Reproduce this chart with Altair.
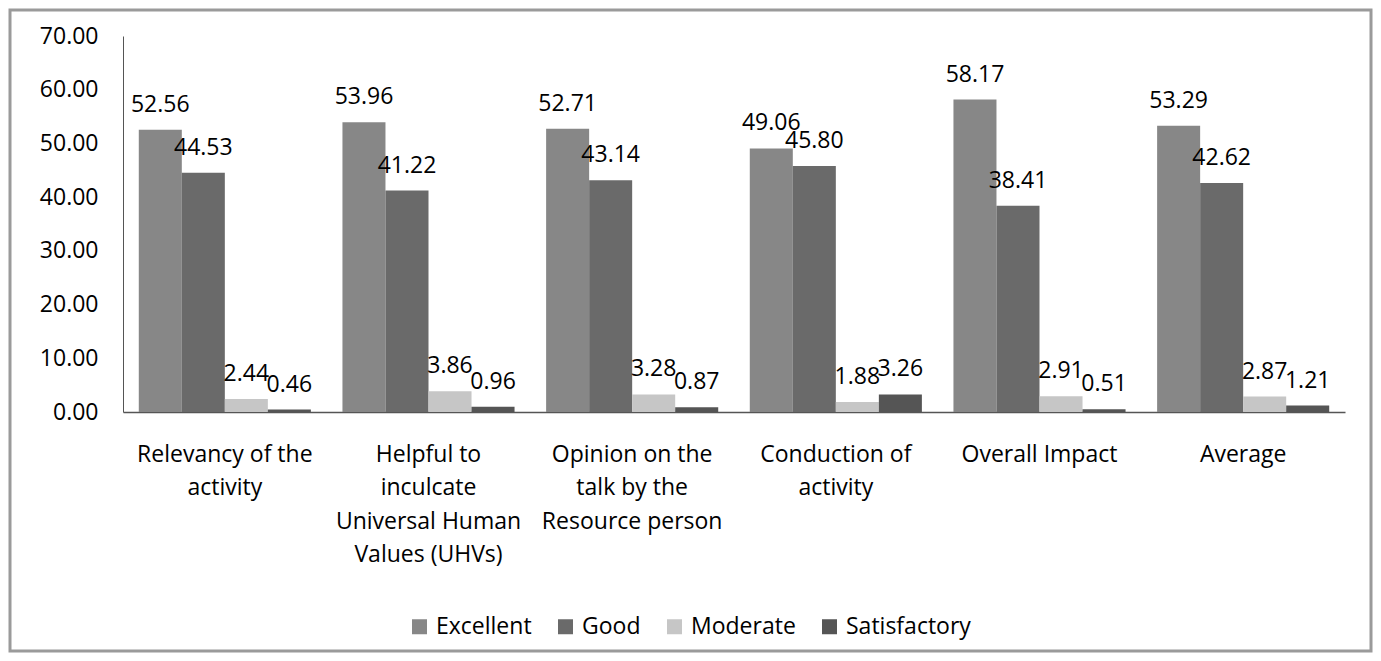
import altair as alt
import pandas as pd

categories = [
    "Relevancy of the|activity",
    "Helpful to|inculcate|Universal Human|Values (UHVs)",
    "Opinion on the|talk by the|Resource person",
    "Conduction of|activity",
    "Overall Impact",
    "Average",
]
series = ["Excellent", "Good", "Moderate", "Satisfactory"]
excellent = [52.56, 53.96, 52.71, 49.06, 58.17, 53.29]
good = [44.53, 41.22, 43.14, 45.80, 38.41, 42.62]
moderate = [2.44, 3.86, 3.28, 1.88, 2.91, 2.87]
satisfactory = [0.46, 0.96, 0.87, 3.26, 0.51, 1.21]
colors = ["#878787", "#6a6a6a", "#c6c6c6", "#555555"]

rows = []
for s, vals in zip(series, [excellent, good, moderate, satisfactory]):
    for c, v in zip(categories, vals):
        rows.append({"category": c, "series": s, "value": v})
df = pd.DataFrame(rows)

FONT = "Open Sans"
W, H = 1222, 376

base = alt.Chart(df).encode(
    x=alt.X(
        "category:N",
        sort=categories,
        title=None,
        scale=alt.Scale(paddingInner=0.155, paddingOuter=0.0775),
        axis=alt.Axis(
            labelExpr="split(datum.label, '|')",
            labelAngle=0,
            labelLimit=0,
            ticks=False,
            labelPadding=31,
            labelFontSize=23,
            labelFont=FONT,
            labelColor="#000000",
            labelLineHeight=33.5,
            labelBaseline="top",
            domainColor="#555555",
            domainWidth=1.5,
        ),
    ),
    xOffset=alt.XOffset("series:N", sort=series, scale=alt.Scale(paddingInner=0, paddingOuter=0)),
    y=alt.Y(
        "value:Q",
        title=None,
        scale=alt.Scale(domain=[0, 70], nice=False),
        axis=alt.Axis(
            values=[0, 10, 20, 30, 40, 50, 60, 70],
            format=".2f",
            ticks=False,
            grid=False,
            labelPadding=25,
            labelFontSize=23,
            labelFont=FONT,
            labelColor="#000000",
            domainColor="#555555",
        ),
    ),
)

bars = base.mark_bar().encode(
    color=alt.Color(
        "series:N",
        sort=series,
        scale=alt.Scale(domain=series, range=colors),
        legend=alt.Legend(
            title=None,
            orient="none",
            direction="horizontal",
            legendX=285,
            legendY=579,
            symbolType="square",
            symbolSize=225,
            symbolStrokeWidth=0,
            labelFontSize=23,
            labelFont=FONT,
            labelColor="#000000",
            labelOffset=5,
            columnPadding=22,
            padding=0,
            labelLimit=0,
        ),
    )
)

text = base.mark_text(dy=-18, baseline="alphabetic", font=FONT, fontSize=23, color="#000000").encode(
    text=alt.Text("value:Q", format=".2f")
)

border = alt.Chart(pd.DataFrame({"a": [0]})).mark_rect(
    fill=None, stroke="#9a9a9a", strokeWidth=3, clip=False
).encode(
    x=alt.value(-113), x2=alt.value(W + 26), y=alt.value(-26), y2=alt.value(H + 239)
)

chart = alt.layer(bars, text, border).properties(
    width=W,
    height=H,
    autosize=alt.AutoSizeParams(type="none"),
    padding={"left": 115, "top": 28, "right": 28, "bottom": 241},
    background="white",
).configure_view(stroke=None)

chart.save("out.html", embed_options={"renderer": "svg", "actions": False})
